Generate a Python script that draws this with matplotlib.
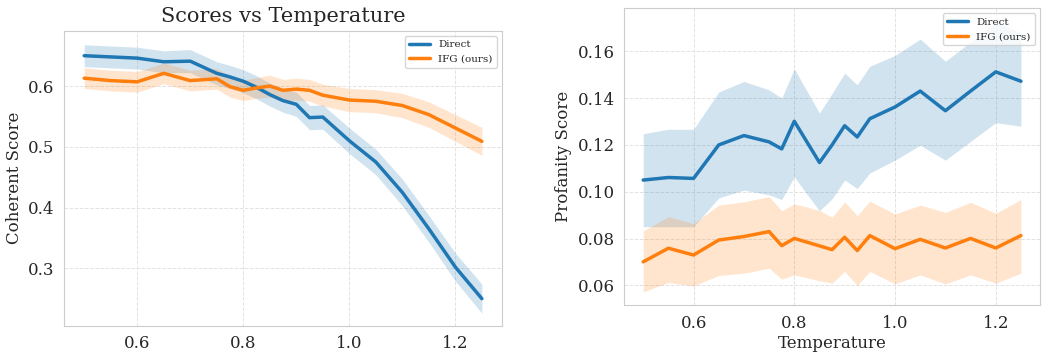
import numpy as np
import matplotlib
matplotlib.use('Agg')
import matplotlib.pyplot as plt
import seaborn as sns

# Temperatures sampled
temps = [0.5, 0.55, 0.6, 0.65, 0.7, 0.75, 0.775, 0.8, 0.825, 0.85,
         0.875, 0.9, 0.925, 0.95, 1.0, 1.05, 1.1, 1.15, 1.2, 1.25]

# Coherence (mean, half-width of band)
coh_direct = [0.650, 0.648, 0.646, 0.640, 0.641, 0.621, 0.615, 0.608, 0.598, 0.586,
              0.576, 0.570, 0.548, 0.549, 0.510, 0.475, 0.425, 0.365, 0.302, 0.250]
coh_direct_err = [0.018, 0.018, 0.018, 0.018, 0.019, 0.019, 0.019, 0.019, 0.019, 0.019,
                  0.019, 0.020, 0.020, 0.020, 0.021, 0.021, 0.022, 0.022, 0.023, 0.024]
coh_ifg = [0.613, 0.609, 0.607, 0.621, 0.609, 0.612, 0.599, 0.593, 0.597, 0.600,
           0.593, 0.595, 0.593, 0.585, 0.577, 0.575, 0.568, 0.553, 0.531, 0.509]
coh_ifg_err = [0.017, 0.017, 0.017, 0.017, 0.017, 0.017, 0.017, 0.017, 0.017, 0.018,
               0.018, 0.018, 0.018, 0.018, 0.019, 0.019, 0.020, 0.021, 0.022, 0.023]

# Profanity (mean, lower, upper)
prof_direct = [0.1050, 0.1061, 0.1057, 0.1200, 0.1240, 0.1213, 0.1183, 0.1301, 0.1213, 0.1125,
               0.1200, 0.1282, 0.1234, 0.1312, 0.1362, 0.1430, 0.1346, 0.1430, 0.1512, 0.1472]
prof_direct_lo = [0.0851, 0.0851, 0.0851, 0.0974, 0.1007, 0.0987, 0.0967, 0.1064, 0.0990, 0.0919,
                  0.0970, 0.1050, 0.1014, 0.1080, 0.1135, 0.1199, 0.1135, 0.1215, 0.1295, 0.1280]
prof_direct_hi = [0.1248, 0.1267, 0.1267, 0.1426, 0.1471, 0.1435, 0.1400, 0.1525, 0.1430, 0.1336,
                  0.1420, 0.1506, 0.1457, 0.1536, 0.1582, 0.1652, 0.1557, 0.1640, 0.1723, 0.1680]
prof_ifg = [0.0701, 0.0759, 0.0730, 0.0794, 0.0809, 0.0830, 0.0770, 0.0801, 0.0785, 0.0769,
            0.0753, 0.0806, 0.0749, 0.0813, 0.0757, 0.0797, 0.0760, 0.0801, 0.0760, 0.0813]
prof_ifg_lo = [0.0573, 0.0613, 0.0598, 0.0643, 0.0652, 0.0674, 0.0627, 0.0645, 0.0633, 0.0620,
               0.0610, 0.0660, 0.0600, 0.0660, 0.0607, 0.0645, 0.0607, 0.0645, 0.0610, 0.0652]
prof_ifg_hi = [0.0833, 0.0894, 0.0864, 0.0943, 0.0957, 0.0979, 0.0919, 0.0948, 0.0935, 0.0920,
               0.0891, 0.0957, 0.0898, 0.0960, 0.0905, 0.0943, 0.0912, 0.0955, 0.0908, 0.0967]

sns.set_style('whitegrid', {'grid.linestyle': '--'})
plt.rcParams['font.family'] = ['DejaVu Serif']
plt.rcParams['grid.color'] = '#e2e2e2'
plt.rcParams['grid.linewidth'] = 0.7
plt.rcParams['axes.edgecolor'] = '#cccccc'

blue = '#1f77b4'
orange = '#ff7f0e'
t = np.array(temps)

fig = plt.figure(figsize=(10.44, 3.54), dpi=100)
ax1 = fig.add_axes([0.0616, 0.080, 0.419, 0.833])
ax2 = fig.add_axes([0.598, 0.138, 0.398, 0.839])

# Left: coherence
cd = np.array(coh_direct); cde = np.array(coh_direct_err)
ci = np.array(coh_ifg); cie = np.array(coh_ifg_err)
ax1.plot(t, cd, color=blue, lw=2.5, label='Direct')
ax1.fill_between(t, cd - cde, cd + cde, color=blue, alpha=0.2, lw=0)
ax1.plot(t, ci, color=orange, lw=2.5, label='IFG (ours)')
ax1.fill_between(t, ci - cie, ci + cie, color=orange, alpha=0.2, lw=0)
ax1.set_ylabel('Coherent Score', fontsize=12)
ax1.set_title('Scores vs Temperature', fontsize=15)
ax1.set_xticks([0.6, 0.8, 1.0, 1.2])
ax1.set_yticks([0.3, 0.4, 0.5, 0.6])
ax1.set_xlim(0.4625, 1.2875)
ax1.set_ylim(0.2055, 0.691)
ax1.tick_params(labelsize=12)
ax1.legend(loc='upper right', fontsize=7.5)

# Right: profanity
ax2.plot(t, prof_direct, color=blue, lw=2.5, label='Direct')
ax2.fill_between(t, prof_direct_lo, prof_direct_hi, color=blue, alpha=0.2, lw=0)
ax2.plot(t, prof_ifg, color=orange, lw=2.5, label='IFG (ours)')
ax2.fill_between(t, prof_ifg_lo, prof_ifg_hi, color=orange, alpha=0.2, lw=0)
ax2.set_ylabel('Profanity Score', fontsize=12)
ax2.set_xlabel('Temperature', fontsize=12, labelpad=2)
ax2.set_xticks([0.6, 0.8, 1.0, 1.2])
ax2.set_yticks([0.06, 0.08, 0.10, 0.12, 0.14, 0.16])
ax2.set_xlim(0.4625, 1.2875)
ax2.set_ylim(0.0516, 0.1784)
ax2.tick_params(labelsize=12)
ax2.legend(loc='upper right', fontsize=7.5)

fig.savefig('out.png', dpi=100)
